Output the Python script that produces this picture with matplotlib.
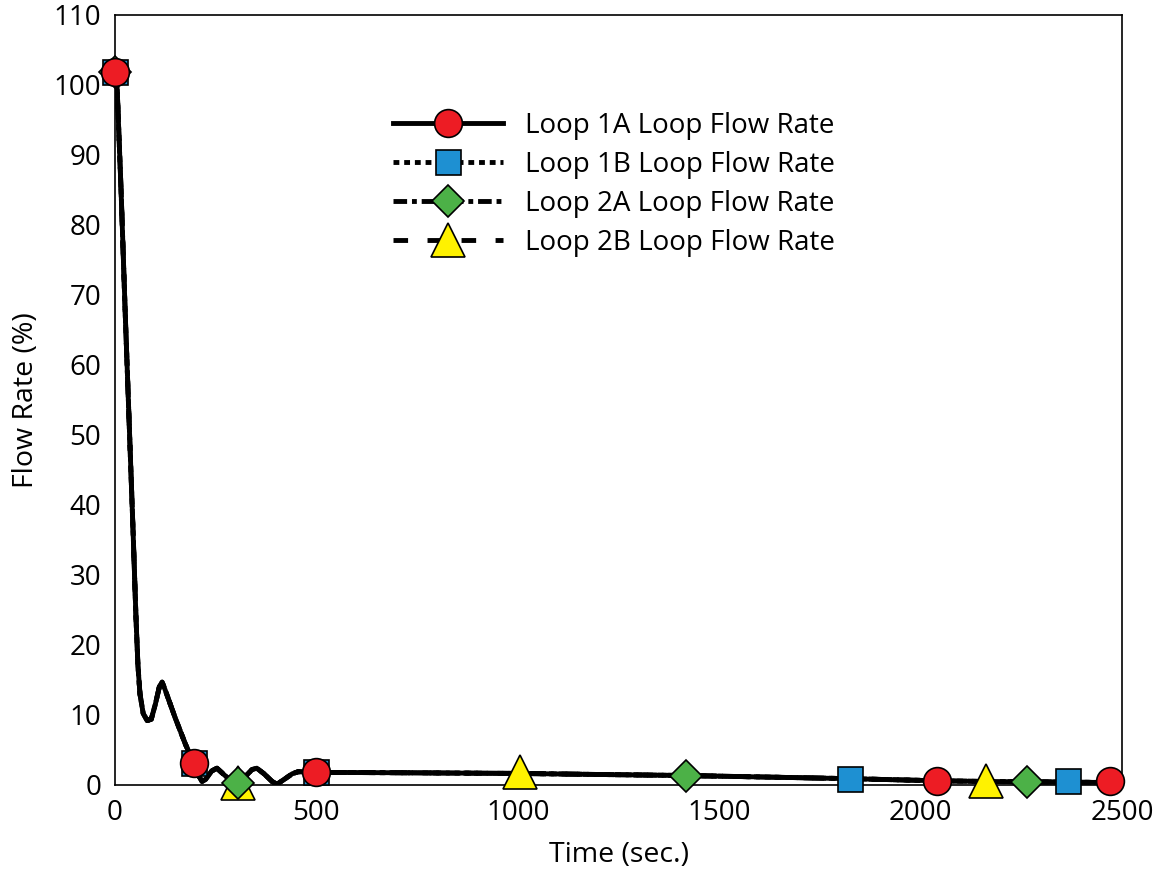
import matplotlib.pyplot as plt
from matplotlib.lines import Line2D

plt.rcParams['font.family'] = ['Open Sans', 'DejaVu Sans']

time_s = [0, 5, 15, 25, 35, 45, 52, 57, 62, 70, 80, 90, 100, 110, 117, 125, 150, 175,
          195, 207, 216, 225, 240, 253, 270, 290, 305, 320, 340, 352, 370, 390, 402,
          420, 440, 455, 480, 500, 700, 1000, 1200, 1418, 1600, 1825, 2040, 2162,
          2265, 2367, 2470, 2500]
flow_1a = [102, 100, 85, 68, 52, 36, 24, 17, 13, 10.2, 9.2, 9.4, 11.5, 14, 14.7, 13.5,
           9.5, 5.8, 3.2, 1.4, 0.5, 0.8, 2.0, 2.4, 1.5, 0.5, 0.3, 1.0, 2.2, 2.4, 1.6,
           0.5, 0.1, 0.8, 1.6, 1.9, 1.85, 1.8, 1.75, 1.65, 1.5, 1.35, 1.15, 0.9, 0.6,
           0.5, 0.45, 0.4, 0.35, 0.3]
flow_1b = flow_1a
flow_2a = flow_1a
flow_2b = flow_1a

# marker positions
t_1a = [0, 195, 500, 2040, 2470]
y_1a = [101.8, 3.2, 1.8, 0.5, 0.5]
t_1b = [0, 195, 500, 1825, 2367]
y_1b = [101.8, 3.2, 1.8, 0.9, 0.5]
t_2a = [0, 305, 1418, 2265]
y_2a = [101.8, 0.3, 1.35, 0.45]
t_2b = [305, 1005, 2162]
y_2b = [0.3, 1.8, 0.6]

labels = ['Loop 1A Loop Flow Rate', 'Loop 1B Loop Flow Rate',
          'Loop 2A Loop Flow Rate', 'Loop 2B Loop Flow Rate']

fig = plt.figure(figsize=(11.7, 8.72), dpi=100)
ax = fig.add_axes([0.0983, 0.0998, 0.8607, 0.883])

lw = 3.5
styles = [
    dict(ls='-', marker='o', mfc='#ED1C24', ms=20),
    dict(ls=(0, (1.2, 1.0)), marker='s', mfc='#1E90D2', ms=18),
    dict(ls=(0, (2.8, 1.0, 1.0, 1.0)), marker='D', mfc='#4CB147', ms=16),
    dict(ls=(0, (3.0, 4.0)), marker='^', mfc='#FFF200', ms=25),
]
curves = [flow_1a, flow_1b, flow_2a, flow_2b]
points = [(t_1a, y_1a), (t_1b, y_1b), (t_2a, y_2a), (t_2b, y_2b)]

for yv, st in zip(curves[::-1], styles[::-1]):
    ax.plot(time_s, yv, color='black', lw=lw, ls=st['ls'], zorder=2)

for (tp, yp), st in zip(points[::-1], styles[::-1]):
    ax.plot(tp, yp, ls='none', marker=st['marker'], ms=st['ms'], mfc=st['mfc'],
            mec='black', mew=1.2, zorder=3, clip_on=False)

handles = [Line2D([], [], color='black', lw=lw, ls=st['ls'], marker=st['marker'],
                  ms=st['ms'], mfc=st['mfc'], mec='black', mew=1.2) for st in styles]
ax.legend(handles, labels, loc='upper left', bbox_to_anchor=(0.265, 0.889),
          frameon=False, fontsize=20, handlelength=3.95, handletextpad=0.8,
          labelspacing=0.4, borderaxespad=0)

ax.set_xlim(0, 2500)
ax.set_ylim(0, 110)
ax.set_xticks(range(0, 2501, 500))
ax.set_yticks(range(0, 111, 10))
ax.tick_params(length=0, labelsize=20, pad=10)
for s in ax.spines.values():
    s.set_linewidth(1.2)
ax.set_xlabel('Time (sec.)', fontsize=20.5, labelpad=10)
ax.set_ylabel('Flow Rate (%)', fontsize=20.5, labelpad=10)

fig.savefig('out.png', dpi=100)
